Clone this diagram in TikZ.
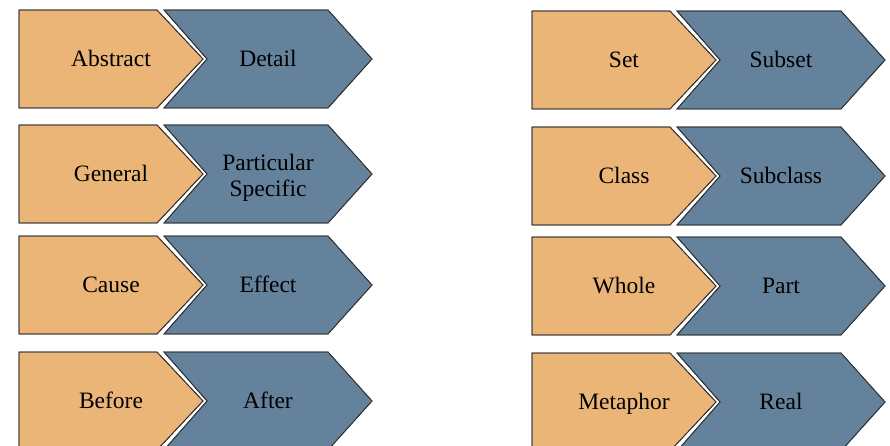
\documentclass[tikz,border=0pt]{standalone}
\usepackage{fontspec}
\setmainfont{Liberation Serif}
\definecolor{sand}{RGB}{235,181,120}
\definecolor{slate}{RGB}{100,130,156}
\tikzset{
  chev/.style={draw=black!80, line width=0.8pt, line join=miter},
  lbl/.style={font=\fontsize{23.5}{26}\selectfont, align=center, text=black,
    text height=15.6pt, text depth=0pt, inner sep=0pt},
  lbltwo/.style={lbl, text height={}, text depth={}, yshift=-4pt},
}
\begin{document}
\begin{tikzpicture}[x=1pt, y=-1pt]
  \useasboundingbox (0,0) rectangle (890,446);
  \clip (0,0) rectangle (890,446);

  \foreach \xo/\yt/\la/\lb/\st [count=\i] in {
      19/10/Abstract/Detail/lbl,
      19/125/General/{Particular\\Specific}/lbltwo,
      19/236/Cause/Effect/lbl,
      19/352/Before/After/lbl,
      532/11/Set/Subset/lbl,
      532/127/Class/Subclass/lbl,
      532/237/Whole/Part/lbl,
      532/353/Metaphor/Real/lbl} {
    % orange head, blue tail
    \fill[chev, fill=sand] (\xo,\yt) -- ++(138,0) -- ++(46,49) -- ++(-46,49)
      -- ++(-138,0) -- cycle;
    \fill[chev, fill=slate] (\xo+145,\yt) -- ++(164,0) -- ++(44,49) -- ++(-44,49)
      -- ++(-164,0) -- ++(43,-49) -- cycle;
    \draw[chev] (\xo,\yt) -- ++(138,0) -- ++(46,49) -- ++(-46,49)
      -- ++(-138,0) -- cycle;
    \draw[chev] (\xo+145,\yt) -- ++(164,0) -- ++(44,49) -- ++(-44,49)
      -- ++(-164,0) -- ++(43,-49) -- cycle;
    \node[lbl] (a\i) at (\xo+92,\yt+49) {\la};
    \node[\st] (b\i) at (\xo+249,\yt+49) {\lb};
  }
\end{tikzpicture}
\end{document}
